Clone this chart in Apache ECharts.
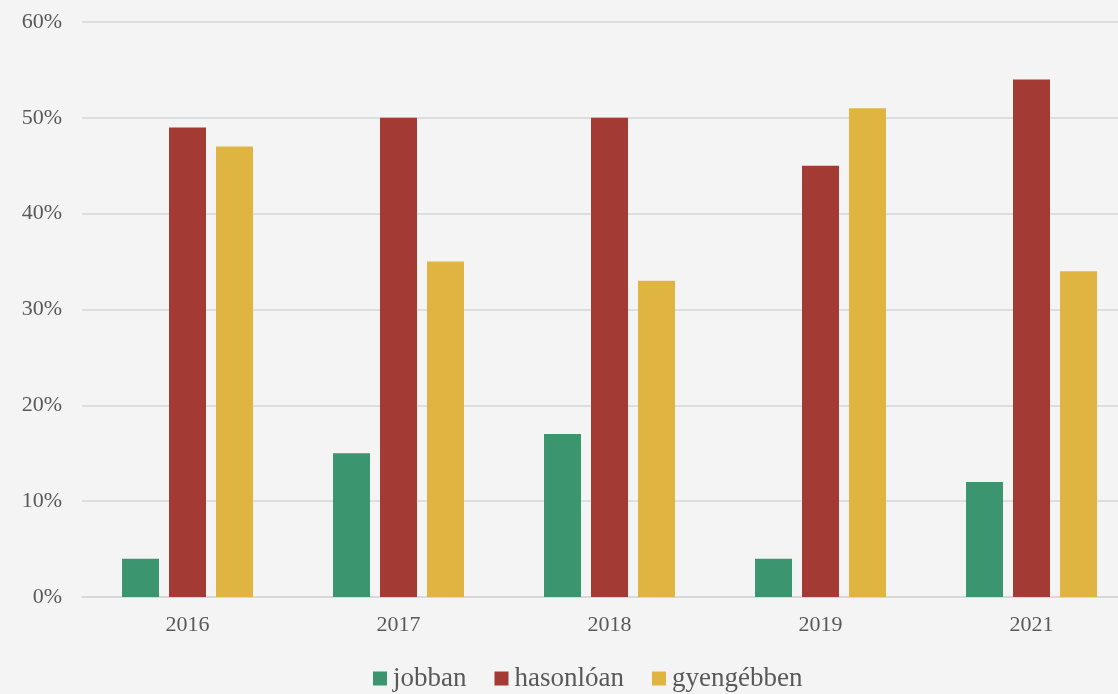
<!DOCTYPE html>
<html><head><meta charset="utf-8">
<script src="https://cdn.jsdelivr.net/npm/echarts@6/dist/echarts.min.js"></script>
<style>html,body{margin:0;padding:0;background:#f4f4f4;}#c{width:1118px;height:694px;}</style>
</head><body><div id="c"></div>
<script>
const categories = ['2016','2017','2018','2019','2021'];
const jobban = [4, 15, 17, 4, 12];
const hasonloan = [49, 50, 50, 45, 54];
const gyengebben = [47, 35, 33, 51, 34];
const seriesNames = ['jobban','hasonlóan','gyengébben'];
const colors = ['#3b9670','#a33a33','#e0b441'];
const font = '"Liberation Serif", "DejaVu Serif", serif';
const chart = echarts.init(document.getElementById('c'));
const mk = (name, data, color) => ({
  name, type: 'bar', data, barWidth: 37, barGap: '27%',
  itemStyle: {color}
});
chart.setOption({
  backgroundColor: '#f4f4f4',
  animation: false,
  color: colors,
  grid: {left: 82, width: 1055, top: 22, bottom: 97, outerBoundsMode: 'none', containLabel: false},
  legend: {
    bottom: -3, left: 368, itemWidth: 14, itemHeight: 14, itemGap: 28,
    icon: 'rect',
    textStyle: {fontFamily: font, fontSize: 27, color: '#595959', padding: [0,0,0,1]}
  },
  xAxis: {
    type: 'category', data: categories,
    axisLine: {lineStyle: {color: '#d6d6d6', width: 1.5}},
    axisTick: {show: false},
    axisLabel: {fontFamily: font, fontSize: 22, color: '#595959', margin: 17}
  },
  yAxis: {
    type: 'value', min: 0, max: 60, interval: 10,
    axisLabel: {formatter: '{value}%', fontFamily: font, fontSize: 22, color: '#595959', margin: 20},
    splitLine: {lineStyle: {color: '#d6d6d6', width: 1.5}},
    axisLine: {show: false}, axisTick: {show: false}
  },
  series: [
    mk(seriesNames[0], jobban, colors[0]),
    mk(seriesNames[1], hasonloan, colors[1]),
    mk(seriesNames[2], gyengebben, colors[2])
  ]
});
</script></body></html>
